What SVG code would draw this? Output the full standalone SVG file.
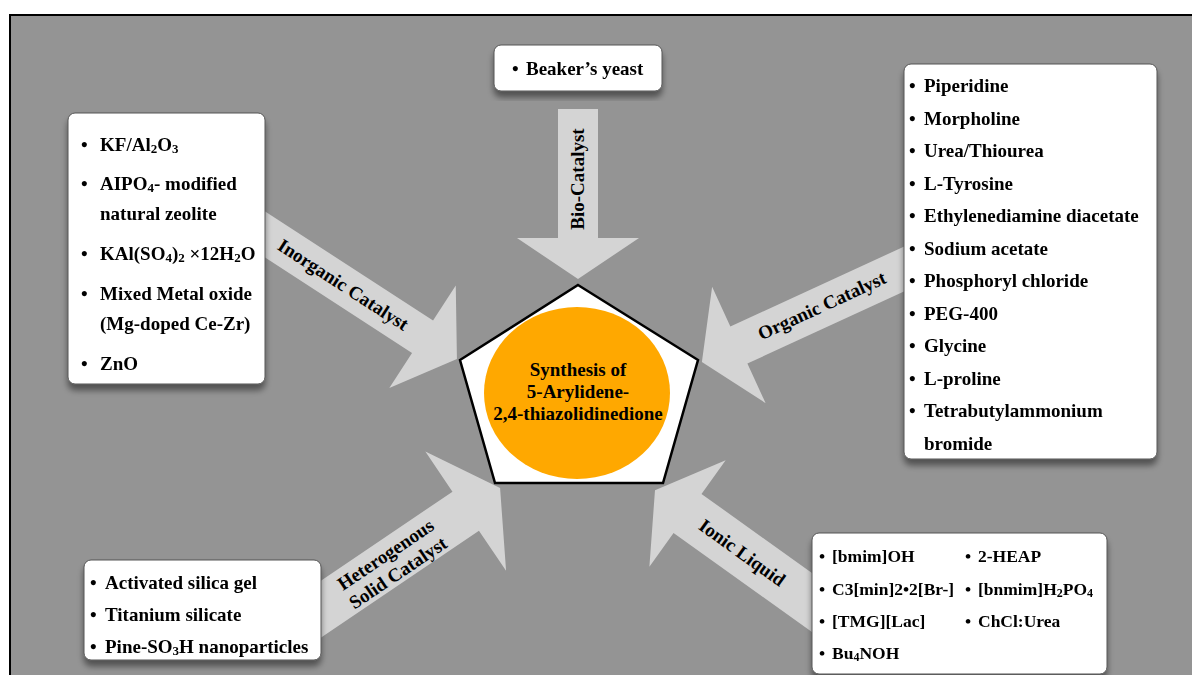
<svg xmlns="http://www.w3.org/2000/svg" width="1192" height="675" viewBox="0 0 1192 675">
<style>
.t{font-family:"Liberation Serif","Times New Roman",serif;font-weight:bold;font-size:19px;fill:#000}
.s{font-size:17.5px}
.c{text-anchor:middle}
.box{fill:#fff;stroke:#555;stroke-width:1}
.arr{fill:#d4d4d4}
</style>
<defs>
<filter id="sh" x="-10%" y="-10%" width="120%" height="130%">
<feGaussianBlur in="SourceAlpha" stdDeviation="3"/>
<feOffset dy="6" result="b"/>
<feComponentTransfer in="b" result="s"><feFuncA type="linear" slope="0.45"/></feComponentTransfer>
<feMerge><feMergeNode in="s"/><feMergeNode in="SourceGraphic"/></feMerge>
</filter>
</defs>
<rect width="1192" height="675" fill="#fff"/>
<rect x="10" y="15" width="1200" height="700" fill="#949494" stroke="#000" stroke-width="2"/>

<g id="connectors">
<polygon class="arr" transform="translate(578,109) rotate(90)" points="0,-20 129,-20 129,-61 170,0 129,61 129,20 0,20"/>
<polygon class="arr" transform="translate(240.8,218.7) rotate(33)" points="0,-19.3 216.7,-19.3 216.7,-61 257.7,0 216.7,61 216.7,19.3 0,19.3"/>
<polygon class="arr" transform="translate(930.2,257) rotate(155.3)" points="0,-20.4 210.6,-20.4 210.6,-64 251.3,0 210.6,64 210.6,20.4 0,20.4"/>
<polygon class="arr" transform="translate(297.2,625.3) rotate(-34.1)" points="0,-23.6 203.5,-23.6 203.5,-72 245,0 203.5,72 203.5,23.6 0,23.6"/>
<polygon class="arr" transform="translate(836.4,620) rotate(-144.4)" points="0,-24 183.1,-24 183.1,-65.5 223.1,0 183.1,65.5 183.1,24 0,24"/>
<text class="t c" transform="translate(578,179) rotate(-90)" y="6">Bio-Catalyst</text>
<text class="t c" transform="translate(343,285) rotate(33)" y="6">Inorganic Catalyst</text>
<text class="t c" transform="translate(822,306) rotate(-24.7)" y="6">Organic Catalyst</text>
<text class="t c" transform="translate(392,564) rotate(-34)"><tspan x="0" y="-5">Heterogenous</tspan><tspan x="0" y="17">Solid Catalyst</tspan></text>
<text class="t c" transform="translate(742,553) rotate(35.6)" y="6">Ionic Liquid</text>
</g>

<g id="center">
<polygon points="578,285 698,360 663,483 495,483 460,360" fill="#fff" stroke="#000" stroke-width="2.5" stroke-linejoin="miter"/>
<ellipse cx="577" cy="393" rx="93" ry="86" fill="#ffa800"/>
<text class="t c"><tspan x="578" y="376">Synthesis of</tspan><tspan x="578" y="398">5-Arylidene-</tspan><tspan x="578" y="420">2,4-thiazolidinedione</tspan></text>
</g>

<g id="bio" filter="url(#sh)">
<rect class="box" x="494" y="45" width="168" height="46" rx="7"/>
<text class="t"><tspan x="512" y="75">•</tspan><tspan x="526" y="75">Beaker’s yeast</tspan></text>
</g>

<g id="inorganic" filter="url(#sh)">
<rect class="box" x="68" y="113" width="197" height="271" rx="7"/>
<text class="t">
<tspan x="81" y="151">•</tspan><tspan x="100" y="151">KF/Al<tspan font-size="13" dy="2">2</tspan><tspan dy="-2">O</tspan><tspan font-size="13" dy="2">3</tspan></tspan>
<tspan x="81" y="190">•</tspan><tspan x="100" y="190">AIPO<tspan font-size="13" dy="2">4</tspan><tspan dy="-2">- modified</tspan></tspan>
<tspan x="100" y="220">natural zeolite</tspan>
<tspan x="81" y="260">•</tspan><tspan x="100" y="260">KAl(SO<tspan font-size="13" dy="2">4</tspan><tspan dy="-2">)</tspan><tspan font-size="13" dy="2">2</tspan><tspan dy="-2"> ×12H</tspan><tspan font-size="13" dy="2">2</tspan><tspan dy="-2">O</tspan></tspan>
<tspan x="81" y="300">•</tspan><tspan x="100" y="300">Mixed Metal oxide</tspan>
<tspan x="100" y="330">(Mg-doped Ce-Zr)</tspan>
<tspan x="81" y="370">•</tspan><tspan x="100" y="370">ZnO</tspan>
</text>
</g>

<g id="organic" filter="url(#sh)">
<rect class="box" x="904" y="64" width="253" height="395" rx="7"/>
<text class="t">
<tspan x="909" y="92">•</tspan><tspan x="924" y="92">Piperidine</tspan>
<tspan x="909" y="124.5">•</tspan><tspan x="924" y="124.5">Morpholine</tspan>
<tspan x="909" y="157">•</tspan><tspan x="924" y="157">Urea/Thiourea</tspan>
<tspan x="909" y="189.5">•</tspan><tspan x="924" y="189.5">L-Tyrosine</tspan>
<tspan x="909" y="222">•</tspan><tspan x="924" y="222">Ethylenediamine diacetate</tspan>
<tspan x="909" y="254.5">•</tspan><tspan x="924" y="254.5">Sodium acetate</tspan>
<tspan x="909" y="287">•</tspan><tspan x="924" y="287">Phosphoryl chloride</tspan>
<tspan x="909" y="319.5">•</tspan><tspan x="924" y="319.5">PEG-400</tspan>
<tspan x="909" y="352">•</tspan><tspan x="924" y="352">Glycine</tspan>
<tspan x="909" y="384.5">•</tspan><tspan x="924" y="384.5">L-proline</tspan>
<tspan x="909" y="417">•</tspan><tspan x="924" y="417">Tetrabutylammonium</tspan>
<tspan x="924" y="449.5">bromide</tspan>
</text>
</g>

<g id="heterogeneous" filter="url(#sh)">
<rect class="box" x="84" y="560" width="237" height="100" rx="7"/>
<text class="t">
<tspan x="90" y="589">•</tspan><tspan x="105" y="589">Activated silica gel</tspan>
<tspan x="90" y="621">•</tspan><tspan x="105" y="621">Titanium silicate</tspan>
<tspan x="90" y="653">•</tspan><tspan x="105" y="653">Pine-SO<tspan font-size="13" dy="2">3</tspan><tspan dy="-2">H nanoparticles</tspan></tspan>
</text>
</g>

<g id="ionic" filter="url(#sh)">
<rect class="box" x="812" y="533" width="295" height="141" rx="7"/>
<text class="t s">
<tspan x="819" y="562">•</tspan><tspan x="832" y="562">[bmim]OH</tspan>
<tspan x="819" y="594.5">•</tspan><tspan x="832" y="594.5">C3[min]2•2[Br-]</tspan>
<tspan x="819" y="627">•</tspan><tspan x="832" y="627">[TMG][Lac]</tspan>
<tspan x="819" y="659">•</tspan><tspan x="832" y="659">Bu<tspan font-size="12" dy="2">4</tspan><tspan dy="-2">NOH</tspan></tspan>
<tspan x="965" y="562">•</tspan><tspan x="978" y="562">2-HEAP</tspan>
<tspan x="965" y="594.5">•</tspan><tspan x="978" y="594.5">[bnmim]H<tspan font-size="12" dy="2">2</tspan><tspan dy="-2">PO</tspan><tspan font-size="12" dy="2">4</tspan></tspan>
<tspan x="965" y="627">•</tspan><tspan x="978" y="627">ChCl:Urea</tspan>
</text>
</g>
</svg>
